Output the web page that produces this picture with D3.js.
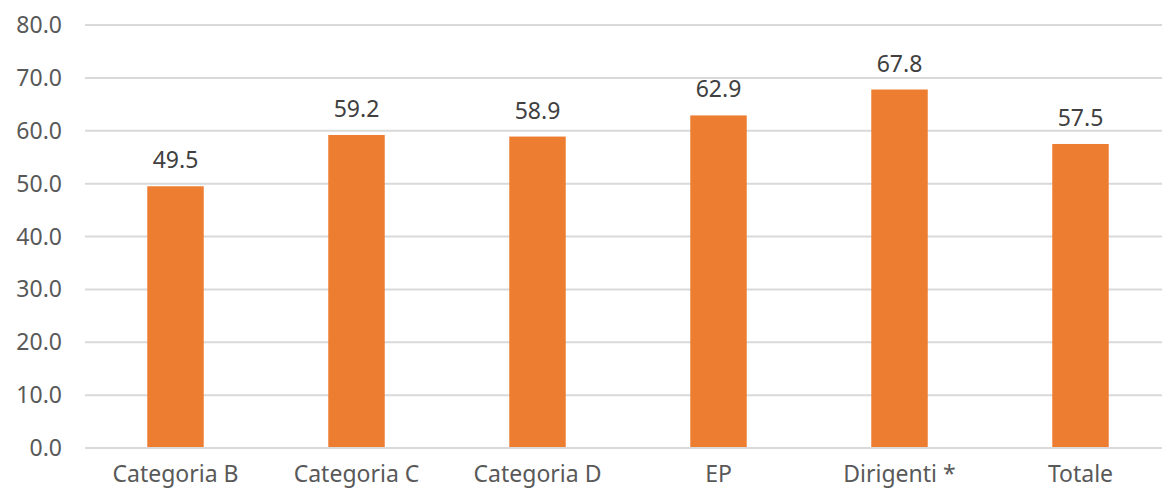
<!DOCTYPE html>
<html>
<head>
<meta charset="utf-8">
<script src="https://cdn.jsdelivr.net/npm/d3@7"></script>
<style>
  html, body { margin: 0; padding: 0; background: #fff; }
  svg { display: block; }
  text { font-family: "Noto Sans", Roboto, sans-serif; }
</style>
</head>
<body>
<svg id="chart" width="1162" height="489"></svg>
<script>
const categories = ["Categoria B", "Categoria C", "Categoria D", "EP", "Dirigenti *", "Totale"];
const values = [49.5, 59.2, 58.9, 62.9, 67.8, 57.5];
const yTicks = [0, 10, 20, 30, 40, 50, 60, 70, 80];

const svg = d3.select("#chart");
const plotLeft = 85, plotRight = 1171, plotTop = 25, plotBottom = 448;
const fontSize = 23;

const x = d3.scaleBand().domain(categories).range([plotLeft, plotRight]).padding(0);
const y = d3.scaleLinear().domain([0, 80]).range([plotBottom, plotTop]);
const barW = x.bandwidth() * 0.312;

// horizontal gridlines
svg.append("g").selectAll("line").data(yTicks).join("line")
  .attr("x1", plotLeft).attr("x2", 1162)
  .attr("y1", d => y(d)).attr("y2", d => y(d))
  .attr("stroke", "#d9d9d9").attr("stroke-width", 2);

// y-axis labels
svg.append("g").selectAll("text").data(yTicks).join("text")
  .attr("x", 62).attr("y", d => y(d)).attr("dy", "0.35em")
  .attr("text-anchor", "end")
  .attr("font-size", fontSize).attr("fill", "#595959")
  .text(d => d.toFixed(1));

// bars
svg.append("g").selectAll("rect").data(values).join("rect")
  .attr("x", (d, i) => x(categories[i]) + x.bandwidth() / 2 - barW / 2)
  .attr("width", barW)
  .attr("y", d => y(d))
  .attr("height", d => y(0) - y(d))
  .attr("fill", "#ED7D31");

// baseline drawn over the bars
svg.append("line")
  .attr("x1", plotLeft).attr("x2", 1162)
  .attr("y1", y(0)).attr("y2", y(0))
  .attr("stroke", "#d9d9d9").attr("stroke-width", 2);

// value labels
svg.append("g").selectAll("text").data(values).join("text")
  .attr("x", (d, i) => x(categories[i]) + x.bandwidth() / 2)
  .attr("y", d => y(d) - 18)
  .attr("text-anchor", "middle")
  .attr("font-size", fontSize).attr("fill", "#404040")
  .text(d => d.toFixed(1));

// category labels
svg.append("g").selectAll("text").data(categories).join("text")
  .attr("x", d => x(d) + x.bandwidth() / 2)
  .attr("y", 482)
  .attr("text-anchor", "middle")
  .attr("font-size", fontSize).attr("fill", "#595959")
  .text(d => d);
</script>
</body>
</html>
